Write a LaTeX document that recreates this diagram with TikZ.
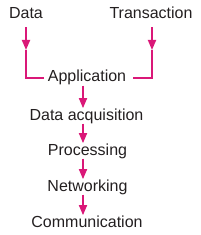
\documentclass[tikz,border=0pt]{standalone}
\usepackage{fontspec}
\setmainfont{Liberation Sans}
\usetikzlibrary{arrows.meta}
\definecolor{flowpink}{RGB}{218,24,120}
\definecolor{flowtext}{RGB}{35,31,32}

\begin{document}
\begin{tikzpicture}[x=0.75pt, y=-0.75pt,
  stage/.style={inner sep=0pt, anchor=base, text=flowtext, font=\fontsize{12}{14}\selectfont},
  flow/.style={draw=flowpink, line width=1.3pt},
  flowarrow/.style={flow, -{Triangle[width=6pt,length=7.5pt]}}]
  \useasboundingbox (0,0) rectangle (200,235);

  % two sources at the top
  \node[stage] (data) at (26,19) {Data};
  \node[stage] (trans) at (151,19) {Transaction};
  \coordinate (dtip) at (26,50);
  \coordinate (ttip) at (152,50);

  % chain of stages
  \node[stage] (app)  at (87,82)    {Application};
  \node[stage] (acq)  at (86.5,120) {Data acquisition};
  \node[stage] (proc) at (87.5,155) {Processing};
  \node[stage] (net)  at (87.5,191) {Networking};
  \node[stage] (comm) at (87,227)   {Communication};
  \coordinate (spine) at (83,0);

  % sources feed the application
  \draw[flowarrow, shorten <=6pt] (data.south) -- (dtip);
  \draw[flowarrow, shorten <=6pt] (trans.south -| ttip) -- (ttip);
  \draw[flow, shorten >=3pt] (dtip) |- (app.west);
  \draw[flow, shorten >=5pt] (ttip) |- (app.east);

  % downward flow
  \foreach \a/\b in {app/acq, acq/proc, proc/net, net/comm}
    \draw[flowarrow] (\a.south -| spine) -- (\b.north -| spine);
\end{tikzpicture}
\end{document}
